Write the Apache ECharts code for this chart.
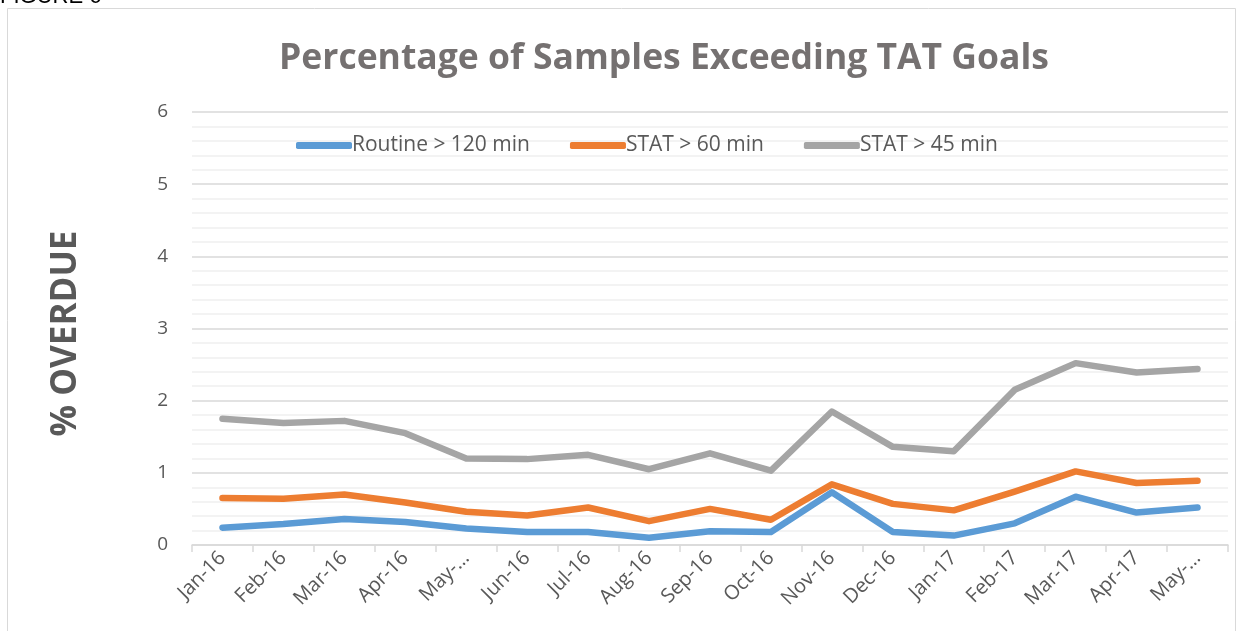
<!DOCTYPE html>
<html>
<head>
<meta charset="utf-8">
<script src="https://cdn.jsdelivr.net/npm/echarts@6/dist/echarts.min.js"></script>
<style>
html,body{margin:0;padding:0;background:#fff;}
#c{width:1241px;height:631px;}
</style>
</head>
<body>
<div id="c"></div>
<script>
const categories = ['Jan-16','Feb-16','Mar-16','Apr-16','May-…','Jun-16','Jul-16','Aug-16','Sep-16','Oct-16','Nov-16','Dec-16','Jan-17','Feb-17','Mar-17','Apr-17','May-…'];
const routine120 = [0.24,0.29,0.36,0.32,0.23,0.18,0.18,0.10,0.19,0.18,0.73,0.18,0.13,0.30,0.67,0.45,0.52];
const stat60 = [0.65,0.64,0.70,0.59,0.46,0.41,0.52,0.33,0.50,0.35,0.84,0.57,0.48,0.74,1.02,0.86,0.89];
const stat45 = [1.75,1.69,1.72,1.55,1.20,1.19,1.25,1.05,1.27,1.03,1.85,1.36,1.30,2.15,2.52,2.39,2.44];
const seriesNames = ['Routine > 120 min','STAT > 60 min','STAT > 45 min'];
const colors = ['#5B9BD5','#ED7D31','#A5A5A5'];
const yTicks = [0,1,2,3,4,5,6];

const chart = echarts.init(document.getElementById('c'), null, {renderer:'canvas'});
const font = '"Open Sans", "Liberation Sans", sans-serif';
const mk = (name, data, color) => ({
  name, type:'line', data, color,
  symbol:'none', smooth:false,
  lineStyle:{width:6.5, color, cap:'round', join:'round'},
  emphasis:{disabled:true}, animation:false
});
chart.setOption({
  animation:false,
  title:{
    text:'Percentage of Samples Exceeding TAT Goals',
    left:274, top:36,
    textStyle:{fontFamily:font, fontWeight:'bold', fontSize:35.5, color:'#757171'}
  },
  graphic:[
    {type:'rect', shape:{x:7.5,y:8.5,width:1228,height:640}, style:{fill:'none', stroke:'#d9d9d9', lineWidth:1}, silent:true, z:-1},
    {type:'text', left:0, top:-14, style:{text:'FIGURE 6', font:'22px "Liberation Sans", sans-serif', fill:'#000'}}
  ],
  legend:{
    top:130, left:291,
    itemWidth:56, itemHeight:7, itemGap:40,
    icon:'roundRect',
    textStyle:{fontFamily:font, fontSize:21, color:'#595959', padding:[0,0,0,-5]},
    data:seriesNames
  },
  grid:{left:192, right:13, top:112, bottom:86},
  xAxis:{
    type:'category', data:categories, boundaryGap:true,
    axisLine:{lineStyle:{color:'#d9d9d9', width:1.5}},
    axisTick:{show:true, alignWithLabel:false, length:7, lineStyle:{color:'#d9d9d9', width:1.5}},
    axisLabel:{rotate:45, interval:0, fontFamily:font, fontSize:20, color:'#595959', margin:10}
  },
  yAxis:{
    type:'value', min:yTicks[0], max:yTicks[yTicks.length-1], interval:1,
    name:'% OVERDUE', nameLocation:'middle', nameGap:108, nameRotate:90,
    nameTextStyle:{fontFamily:font, fontWeight:'bold', fontSize:35, color:'#595959', padding:[0,10,0,0]},
    axisLine:{show:false}, axisTick:{show:false},
    axisLabel:{fontFamily:font, fontSize:19, color:'#595959', margin:24},
    splitLine:{lineStyle:{color:'#d9d9d9', width:1.5}},
    minorTick:{show:false, splitNumber:5},
    minorSplitLine:{show:true, lineStyle:{color:'#efefef', width:1.5}}
  },
  series:[
    mk(seriesNames[0], routine120, colors[0]),
    mk(seriesNames[1], stat60, colors[1]),
    mk(seriesNames[2], stat45, colors[2])
  ]
});
</script>
</body>
</html>
